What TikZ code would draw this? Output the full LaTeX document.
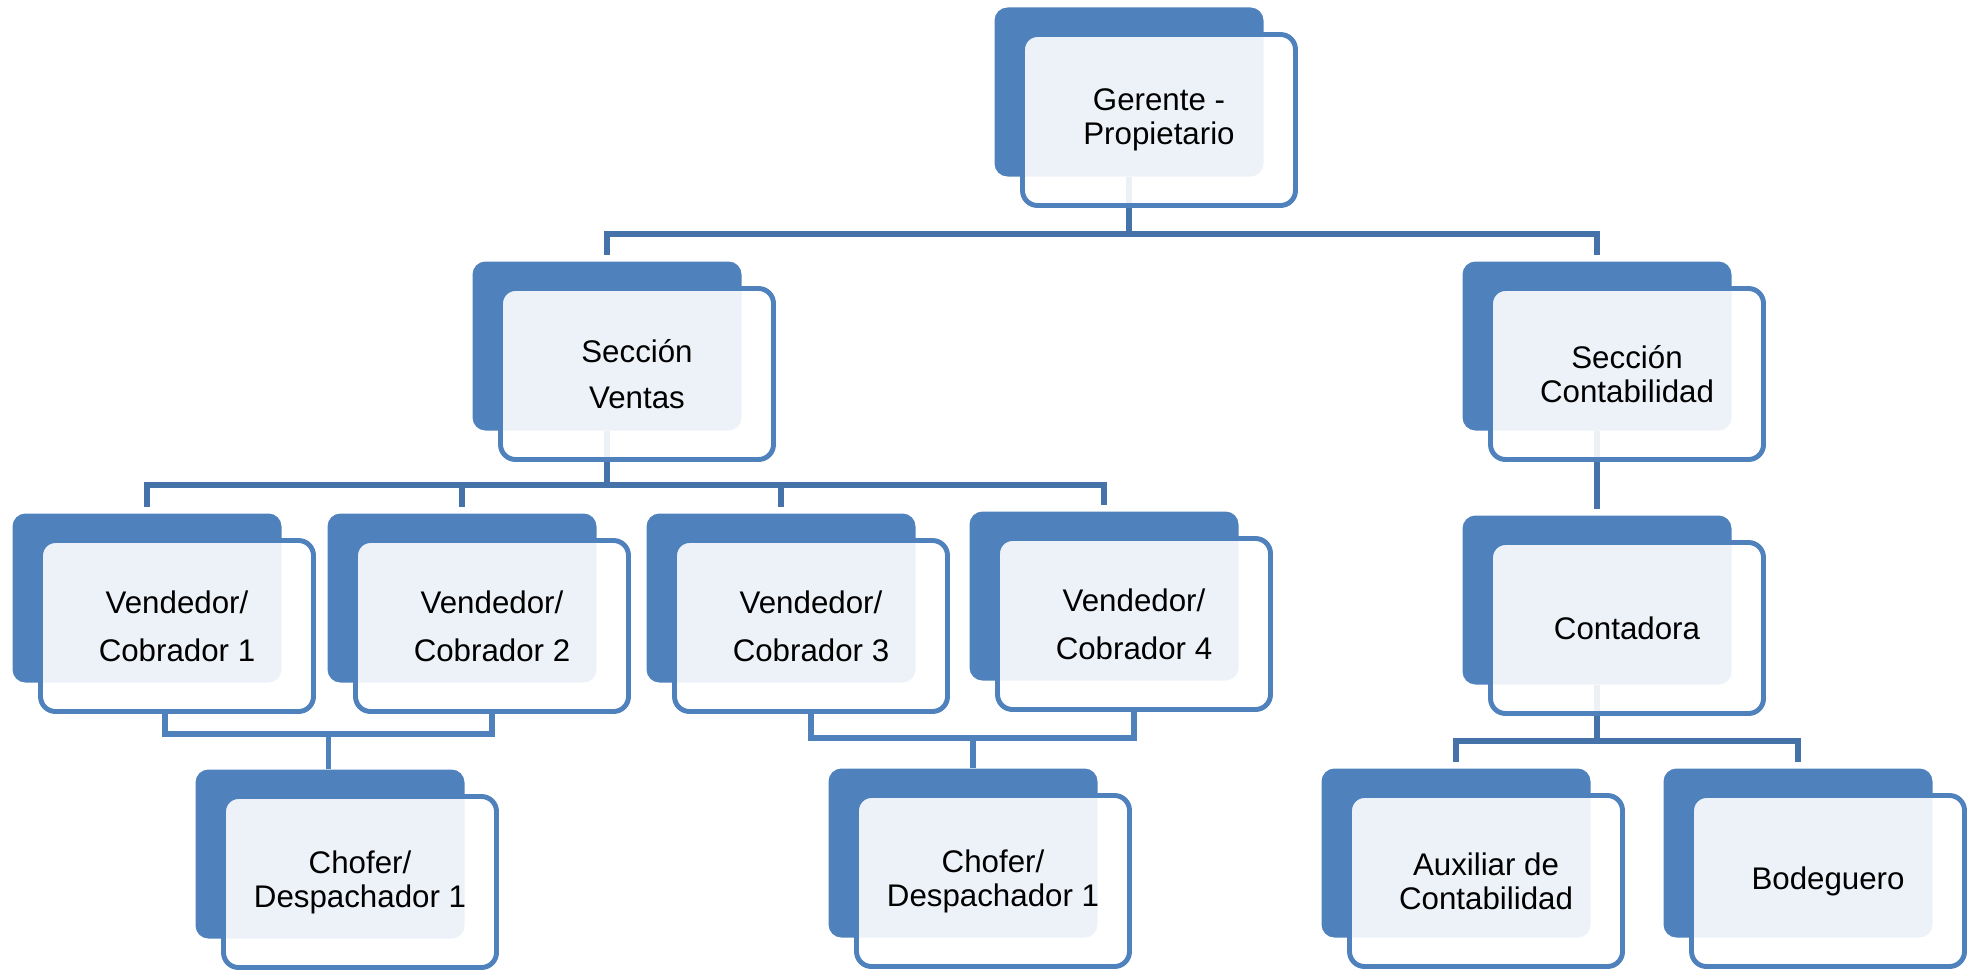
\documentclass[tikz,border=0pt]{standalone}
\usepackage{fontspec}
\setmainfont{Liberation Sans}
\usepackage{xcolor}
\definecolor{box-blue}{HTML}{4F81BD}
\definecolor{link-blue}{HTML}{4672AA}
\usetikzlibrary{backgrounds}

\begin{document}
\begin{tikzpicture}[
      every node/.style={font=\fontsize{8.9pt}{9.7pt}\selectfont},
      backbox/.style={fill=box-blue, rounded corners=0.13cm, inner sep=0pt,
          minimum width=2.69cm, minimum height=1.69cm},
      frontbox/.style={draw=box-blue, line width=1.4pt, fill=white,
          fill opacity=0.9, text opacity=1, rounded corners=0.15cm,
          inner sep=0pt, minimum width=2.73cm, minimum height=1.71cm,
          align=center},
      treeline/.style={draw=link-blue, line width=1.7pt},
      bracket/.style={draw=box-blue, line width=1.7pt}]
    \useasboundingbox (0,0) rectangle (19.75,-9.70);

    \node[backbox] (gB) at (11.29,-0.92) {};
    \node[frontbox] (gF) at ([shift={(0.30,-0.28)}]gB.center)
          {Gerente -\\Propietario};
    \node[backbox] (vtB) at (6.07,-3.46) {};
    \node[frontbox] (vtF) at ([shift={(0.30,-0.28)}]vtB.center)
          {Sección\\[3.6pt]Ventas};
    \node[backbox] (ctB) at (15.97,-3.46) {};
    \node[frontbox] (ctF) at ([shift={(0.30,-0.28)}]ctB.center)
          {Sección\\Contabilidad};
    \node[backbox] (v1B) at (1.47,-5.98) {};
    \node[frontbox] (v1F) at ([shift={(0.30,-0.28)}]v1B.center)
          {Vendedor/\\[3.9pt]Cobrador 1};
    \node[backbox] (v2B) at (4.62,-5.98) {};
    \node[frontbox] (v2F) at ([shift={(0.30,-0.28)}]v2B.center)
          {Vendedor/\\[3.9pt]Cobrador 2};
    \node[backbox] (v3B) at (7.81,-5.98) {};
    \node[frontbox] (v3F) at ([shift={(0.30,-0.28)}]v3B.center)
          {Vendedor/\\[3.9pt]Cobrador 3};
    \node[backbox] (v4B) at (11.04,-5.96) {};
    \node[frontbox] (v4F) at ([shift={(0.30,-0.28)}]v4B.center)
          {Vendedor/\\[3.9pt]Cobrador 4};
    \node[backbox] (caB) at (15.97,-6.00) {};
    \node[frontbox] (caF) at ([shift={(0.30,-0.28)}]caB.center)
          {Contadora};
    \node[backbox] (ch1B) at (3.30,-8.54) {};
    \node[frontbox] (ch1F) at ([shift={(0.30,-0.28)}]ch1B.center)
          {Chofer/\\Despachador 1};
    \node[backbox] (ch2B) at (9.63,-8.53) {};
    \node[frontbox] (ch2F) at ([shift={(0.30,-0.28)}]ch2B.center)
          {Chofer/\\Despachador 1};
    \node[backbox] (auB) at (14.56,-8.53) {};
    \node[frontbox] (auF) at ([shift={(0.30,-0.28)}]auB.center)
          {Auxiliar de\\Contabilidad};
    \node[backbox] (boB) at (17.98,-8.53) {};
    \node[frontbox] (boF) at ([shift={(0.30,-0.28)}]boB.center)
          {Bodeguero};

    \begin{scope}[on background layer]
      \draw[treeline, shorten >=0.06cm] (gB.south) -- ++(0,-0.57) -| (vtB.north);
      \draw[treeline, shorten >=0.06cm] (gB.south) -- ++(0,-0.57) -| (ctB.north);
      \draw[treeline, shorten >=0.06cm] (vtB.south) -- ++(0,-0.54) -| (v1B.north);
      \draw[treeline, shorten >=0.06cm] (vtB.south) -- ++(0,-0.54) -| (v2B.north);
      \draw[treeline, shorten >=0.06cm] (vtB.south) -- ++(0,-0.54) -| (v3B.north);
      \draw[treeline, shorten >=0.06cm] (vtB.south) -- ++(0,-0.54) -| (v4B.north);
      \draw[treeline, shorten >=0.06cm] (ctB.south) -- (caB.north);
      \draw[treeline, shorten >=0.06cm] (caB.south) -- ++(0,-0.555) -| (auB.north);
      \draw[treeline, shorten >=0.06cm] (caB.south) -- ++(0,-0.555) -| (boB.north);
      \draw[bracket] ([xshift=-0.12cm]v1F.south) -- ++(0,-0.2)
            -| coordinate[pos=0.25] (brA) (v2F.south);
      \draw[bracket] (brA) -- (brA |- ch1B.north);
      \draw[bracket] (v3F.south) -- ++(0,-0.24)
            -| coordinate[pos=0.25] (brB) (v4F.south);
      \draw[bracket] (brB) -- (brB |- ch2B.north);
    \end{scope}
  \end{tikzpicture}
\end{document}
